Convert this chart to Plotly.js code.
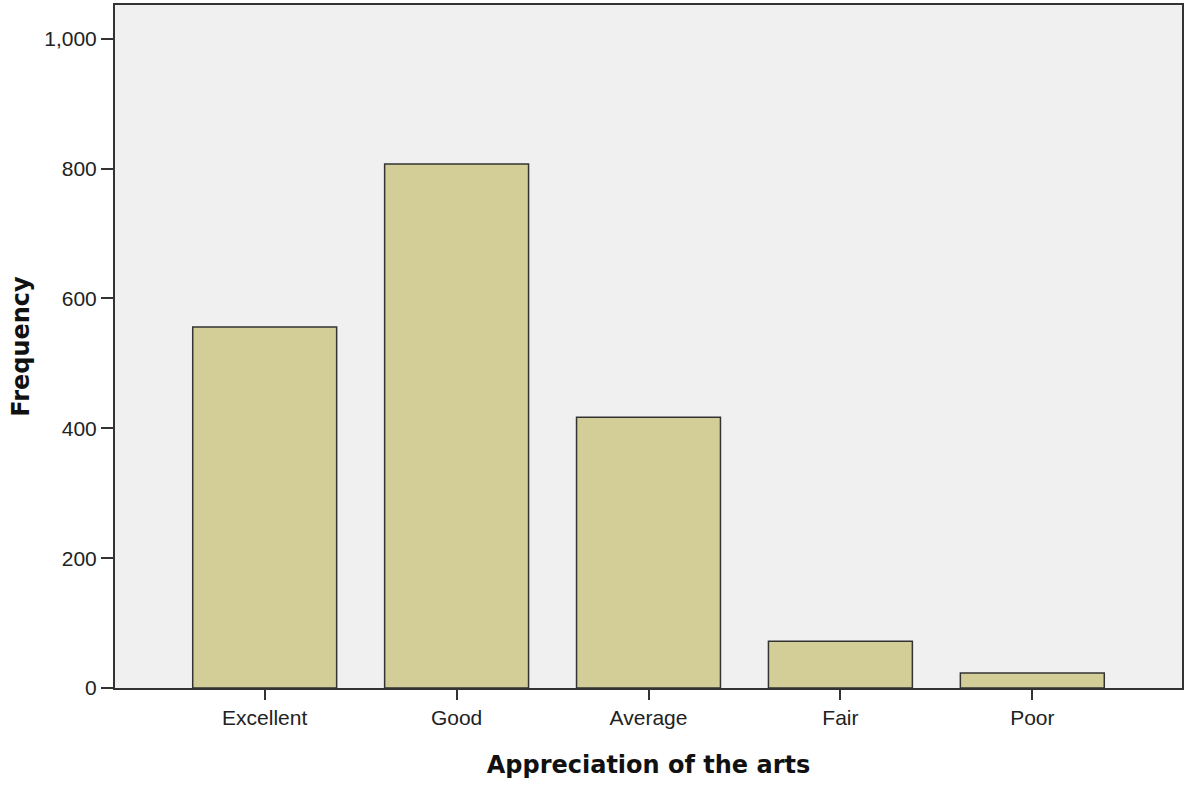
<!DOCTYPE html>
<html>
<head>
<meta charset="utf-8">
<script src="https://cdn.plot.ly/plotly-3.0.1.min.js"></script>
<style>html,body{margin:0;padding:0;background:#fff;}#chart{width:1186px;height:786px;}</style>
</head>
<body>
<div id="chart"></div>
<script>
const categories = ["Excellent", "Good", "Average", "Fair", "Poor"];
const frequency = [556, 807, 417, 72, 23];
const yTickVals = [0, 200, 400, 600, 800, 1000];
const yTickText = ["0", "200", "400", "600", "800", "1,000"];

const trace = {
  type: "bar",
  x: categories,
  y: frequency,
  width: 0.75,
  marker: { color: "#d3ce97", line: { color: "#333333", width: 1.5 } },
  hoverinfo: "x+y"
};

const layout = {
  width: 1186,
  height: 786,
  margin: { l: 115, r: 4, t: 5, b: 98 },
  paper_bgcolor: "#ffffff",
  plot_bgcolor: "#f0f0f0",
  showlegend: false,
  font: { family: "Liberation Sans, Arial, sans-serif", color: "#222222" },
  xaxis: {
    type: "category",
    range: [-0.78, 4.78],
    showgrid: false,
    zeroline: false,
    showline: true,
    linecolor: "#333333",
    linewidth: 2,
    mirror: true,
    ticks: "outside",
    ticklen: 10,
    tickwidth: 2,
    tickcolor: "#333333",
    tickfont: { size: 21, color: "#222222" },
    title: { text: "Appreciation of the arts", font: { family: "DejaVu Sans, sans-serif", size: 24, color: "#111111", weight: "bold" }, standoff: 28 }
  },
  yaxis: {
    range: [0, 1052],
    tickvals: yTickVals,
    ticktext: yTickText,
    showgrid: false,
    zeroline: false,
    showline: true,
    linecolor: "#333333",
    linewidth: 2,
    mirror: true,
    ticks: "outside",
    ticklen: 12,
    tickwidth: 2,
    tickcolor: "#333333",
    tickfont: { size: 21, color: "#222222" },
    title: { text: "Frequency", font: { family: "DejaVu Sans, sans-serif", size: 24, color: "#111111", weight: "bold" }, standoff: 8 }
  }
};

Plotly.newPlot("chart", [trace], layout, { displayModeBar: false, staticPlot: true });
</script>
</body>
</html>
